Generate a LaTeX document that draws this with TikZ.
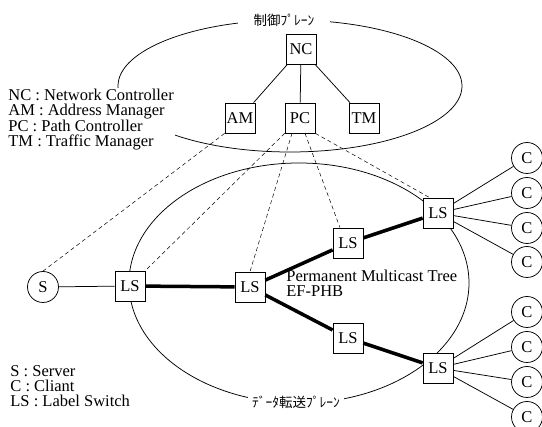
\documentclass[tikz,border=0pt]{standalone}
\usepackage{fontspec}
\setmainfont{Liberation Serif}
\newfontfamily\jpfont{Noto Sans CJK JP}
\usetikzlibrary{arrows.meta, positioning, shapes, calc}

\begin{document}
\begin{tikzpicture}[x=1pt, y=-1pt, font=\fontsize{16.5}{15}\selectfont, line width=0.75pt]
        \tikzstyle{switch} = [rectangle, draw, fill=white, minimum width=30pt, minimum height=30pt, inner sep=0pt]
        \tikzstyle{host} = [circle, draw, fill=white, minimum size=31pt, inner sep=0pt]
        \tikzstyle{plane} = [fill=white, inner ysep=1pt, font=\jpfont\fontsize{13.5}{14}\selectfont]
        \tikzstyle{ctrl} = [line width=0.5pt, dash pattern=on 4pt off 3pt]
        \tikzstyle{tree} = [line width=3.5pt]
        \tikzstyle{legend} = [align=left, inner sep=1pt, fill=white]

        \useasboundingbox (0,0) rectangle (542,427);

        % Planes
        \draw (290,86) ellipse [x radius=172, y radius=66];
        \draw (299,283) ellipse [x radius=170, y radius=120];
        \node (cplane) [plane, inner xsep=16pt] at (284,20) {制御ﾌﾟﾚｰﾝ};
        \node (dplane) [plane, inner xsep=4pt] at (296,402) {ﾃﾞｰﾀ転送ﾌﾟﾚｰﾝ};

        % Legends
        \node (ctrlkey) [legend, anchor=north west] at (7,88) {NC : Network Controller\\AM : Address Manager\\PC : Path Controller\\TM : Traffic Manager};
        \node (datakey) [legend, anchor=north west] at (9,364) {S : Server\\C : Cliant\\LS : Label Switch};

        % Control nodes
        \node (NC) [switch] at (301,49) {NC};
        \node (AM) [switch] at (240,118) {AM};
        \node (PC) [switch] at (300,118) {PC};
        \node (TM) [switch] at (364,118) {TM};

        % Data nodes
        \node (S) [host] at (43,287) {S};
        \node (LS1) [switch] at (130,286) {LS};
        \node (LS2) [switch] at (250,287) {LS};
        \node (LS3) [switch] at (348,243) {LS};
        \node (LS4) [switch] at (348,338) {LS};
        \node (LS5) [switch] at (438,213) {LS};
        \node (LS6) [switch] at (438,368) {LS};
        \foreach \y [count=\i] in {158,193,228,262}
            \node (Ca\i) [host] at (527,\y) {C};
        \foreach \y [count=\i] in {312,347,382,417}
            \node (Cb\i) [host] at (527,\y) {C};

        \node (pmt) [align=left, anchor=north west, inner sep=0pt] at (286,270) {Permanent Multicast Tree\\EF-PHB};

        % Links
        \draw (NC) -- (AM);
        \draw (NC) -- (PC);
        \draw (NC) -- (TM);
        \draw (S) -- (LS1);
        \draw [tree] (LS1) -- (LS2);
        \draw [tree] (LS2) -- (LS3);
        \draw [tree] (LS3) -- (LS5);
        \draw [tree] (LS2) -- (LS4);
        \draw [tree] (LS4) -- (LS6);
        \foreach \i in {1,...,4} {
            \draw (LS5) -- (Ca\i);
            \draw (LS6) -- (Cb\i);
        }

        % Control links
        \draw [ctrl] (AM.south west) -- (S.north);
        \draw [ctrl] (PC.south west) -- (LS1.north east);
        \draw [ctrl] ($(PC.south)+(-8,0)$) -- (LS2.north);
        \draw [ctrl] ($(PC.south)+(5,0)$) -- ($(LS3.north)+(-8,0)$);
        \draw [ctrl] (PC.south east) -- ($(LS5.north west)+(7,0)$);
    \end{tikzpicture}
\end{document}
